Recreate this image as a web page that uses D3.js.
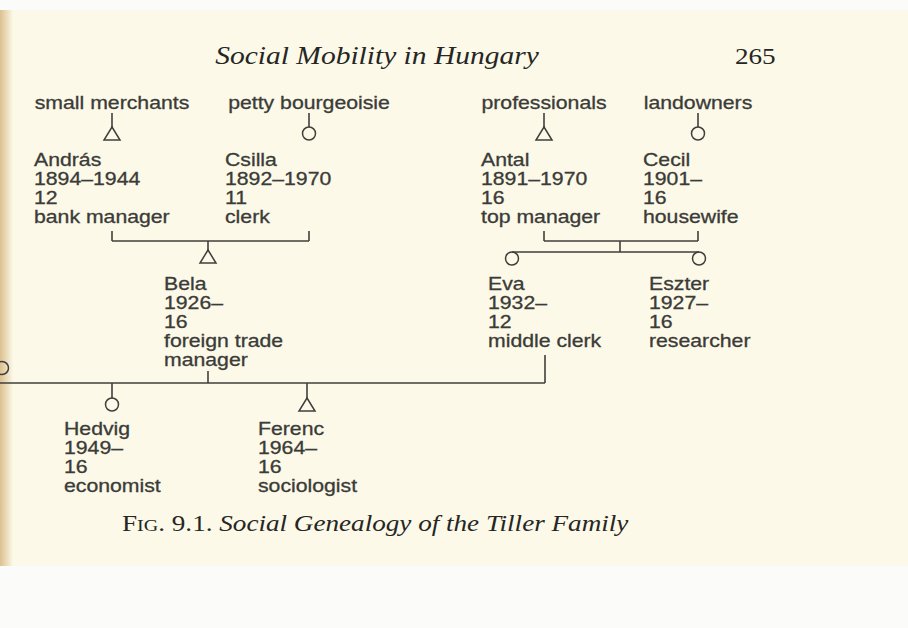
<!DOCTYPE html>
<html>
<head>
<meta charset="utf-8">
<script src="https://cdn.jsdelivr.net/npm/d3@7"></script>
<style>
  html, body { margin: 0; padding: 0; background: #fff; }
  svg { display: block; }
  .sans { font-family: "Liberation Sans", Arial, sans-serif; font-size: 18px; fill: #3b3b38;
    stroke: #3b3b38; stroke-width: 0.3; }
  .serif { font-family: "Liberation Serif", "Times New Roman", serif; fill: #262624; }
  .link { fill: none; stroke: #3f3f3c; stroke-width: 1.6; }
  .sym { fill: none; stroke: #3f3f3c; stroke-width: 1.5; }
</style>
</head>
<body>
<svg id="chart" width="908" height="628"></svg>
<script>
'use strict';

// Data
const origins = ['small merchants', 'petty bourgeoisie', 'professionals', 'landowners'];
const people = ['András', 'Csilla', 'Antal', 'Cecil', 'Bela', 'Eva', 'Eszter', 'Hedvig', 'Ferenc'];
const lifespans = ['1894–1944', '1892–1970', '1891–1970', '1901–', '1926–', '1932–', '1927–', '1949–', '1964–'];
const schooling = [12, 11, 16, 16, 16, 12, 16, 16, 16];
const occupations = ['bank manager', 'clerk', 'top manager', 'housewife', 'foreign trade\nmanager',
  'middle clerk', 'researcher', 'economist', 'sociologist'];
const sexes = ['m', 'f', 'm', 'f', 'm', 'f', 'f', 'f', 'm'];
const generations = [1, 1, 1, 1, 2, 2, 2, 3, 3];
const couples = [['András', 'Csilla'], ['Antal', 'Cecil'], ['Bela', 'Eva']];
const offspring = [['Bela'], ['Eva', 'Eszter'], ['Hedvig', 'Ferenc']];

// Layout
const W = 908;
const H = 628;
const STRETCH = 1.18;   // scan is wider than tall
const LINE = 19;
const R = 6.5;
const TRI_W = 16;
const TRI_H = 13;

const symbolX = d3.scaleOrdinal(people, [112, 309, 544, 698, 208, 512, 699, 112, 307]);
const textX = d3.scaleOrdinal(people, [34, 225, 481, 643, 164, 488, 649, 64, 258]);
const bracketX = d3.scaleOrdinal(people, [112, 309, 544, 698, 208, 545, 699, 112, 307]);
const originX = d3.scaleOrdinal(origins, [112, 309, 544, 698]);
const textY = d3.scaleOrdinal([0, 1, 2, 3], [109, 166, 290, 435]);
const lineY = d3.scaleLinear().domain([0, 1]).range([0, LINE]);

const svg = d3.select('#chart');
const line = d3.line();

// Page
const defs = svg.append('defs');
const edge = defs.append('linearGradient').attr('id', 'edge').attr('x1', 0).attr('x2', 1);
edge.append('stop').attr('offset', 0).attr('stop-color', '#dcc08f');
edge.append('stop').attr('offset', 1).attr('stop-color', '#fbf8e7');

svg.append('rect').attr('width', W).attr('height', H).attr('fill', '#fbfbf9');
svg.append('rect').attr('x', 0).attr('y', 10).attr('width', W).attr('height', 556).attr('fill', '#fcf9e8');
svg.append('rect').attr('x', 0).attr('y', 10).attr('width', 13).attr('height', 556).attr('fill', 'url(#edge)');

const stretched = (x, y) => 'translate(' + x + ',' + y + ') scale(' + STRETCH + ',1)';

// Header
svg.append('text')
  .attr('class', 'serif')
  .attr('transform', stretched(377, 64))
  .attr('text-anchor', 'middle')
  .style('font-size', '25px')
  .style('font-style', 'italic')
  .text('Social Mobility in Hungary');

svg.append('text')
  .attr('class', 'serif')
  .attr('transform', stretched(735, 64))
  .style('font-size', '23px')
  .text('265');

function drawSymbol (g, sex, x, top) {
  if (sex === 'f') {
    g.append('circle')
      .attr('class', 'sym')
      .attr('cx', x)
      .attr('cy', top + R)
      .attr('r', R);
  } else {
    g.append('path')
      .attr('class', 'sym')
      .attr('d', line([[x, top], [x + TRI_W / 2, top + TRI_H], [x - TRI_W / 2, top + TRI_H]]) + 'Z');
  }
}

const marks = svg.append('g').attr('class', 'marks');

// Class origins
svg.append('g').attr('class', 'origins')
  .selectAll('text')
  .data(origins)
  .enter()
  .append('text')
    .attr('class', 'sans')
    .attr('text-anchor', 'middle')
    .attr('transform', d => stretched(originX(d), textY(0)))
    .text(d => d);

origins.forEach((o, i) => {
  const x = originX(o);
  marks.append('path').attr('class', 'link').attr('d', line([[x, 113], [x, 127]]));
  drawSymbol(marks, sexes[i], x, 127);
});

// People blocks
const persons = svg.append('g').attr('class', 'persons')
  .selectAll('g')
  .data(people.map((name, i) => ({
    name,
    gen: generations[i],
    rows: [name, lifespans[i], String(schooling[i])].concat(occupations[i].split('\n'))
  })))
  .enter()
  .append('g');

persons.selectAll('text')
  .data(d => d.rows.map((r, j) => ({ r, j, d })))
  .enter()
  .append('text')
    .attr('class', 'sans')
    .attr('transform', t => stretched(textX(t.d.name), textY(t.d.gen) + lineY(t.j)))
    .text(t => t.r);

// Marriage brackets and descent lines
const bracketTop = { 'András': 231, 'Csilla': 231, 'Antal': 231, 'Cecil': 231, 'Bela': 371, 'Eva': 355 };
const bracketY = [241, 241, 383];

couples.forEach((pair, i) => {
  const y = bracketY[i];
  const [a, b] = pair.map(p => bracketX(p));
  const left = i === 2 ? 0 : a;
  marks.append('path').attr('class', 'link')
    .attr('d', line([[a, bracketTop[pair[0]]], [a, y]]));
  marks.append('path').attr('class', 'link')
    .attr('d', line([[b, bracketTop[pair[1]]], [b, y]]));
  marks.append('path').attr('class', 'link')
    .attr('d', line([[left, y], [b, y]]));

  const kids = offspring[i];
  if (kids.length === 1) {
    const x = symbolX(kids[0]);
    marks.append('path').attr('class', 'link').attr('d', line([[x, y], [x, y + 9]]));
    drawSymbol(marks, sexes[people.indexOf(kids[0])], x, y + 9);
  } else if (i === 1) {
    const mid = (a + b) / 2 - 1;
    const sib = y + 11;
    marks.append('path').attr('class', 'link').attr('d', line([[mid, y], [mid, sib]]));
    marks.append('path').attr('class', 'link')
      .attr('d', line([[symbolX(kids[0]), sib], [symbolX(kids[1]), sib]]));
    kids.forEach(k => drawSymbol(marks, sexes[people.indexOf(k)], symbolX(k), sib));
  } else {
    kids.forEach(k => {
      const x = symbolX(k);
      marks.append('path').attr('class', 'link').attr('d', line([[x, y], [x, y + 15]]));
      drawSymbol(marks, sexes[people.indexOf(k)], x, y + 15);
    });
  }
});

// spouse cut off at the page gutter
marks.append('circle').attr('class', 'sym').attr('cx', 2).attr('cy', 368).attr('r', R);

// Caption
const caption = svg.append('text')
  .attr('class', 'serif')
  .attr('transform', stretched(122, 531))
  .style('font-size', '23px');
caption.append('tspan').text('F');
caption.append('tspan').style('font-size', '17px').text('IG');
caption.append('tspan').text('. 9.1. ');
caption.append('tspan').style('font-style', 'italic').text('Social Genealogy of the Tiller Family');
</script>
</body>
</html>
